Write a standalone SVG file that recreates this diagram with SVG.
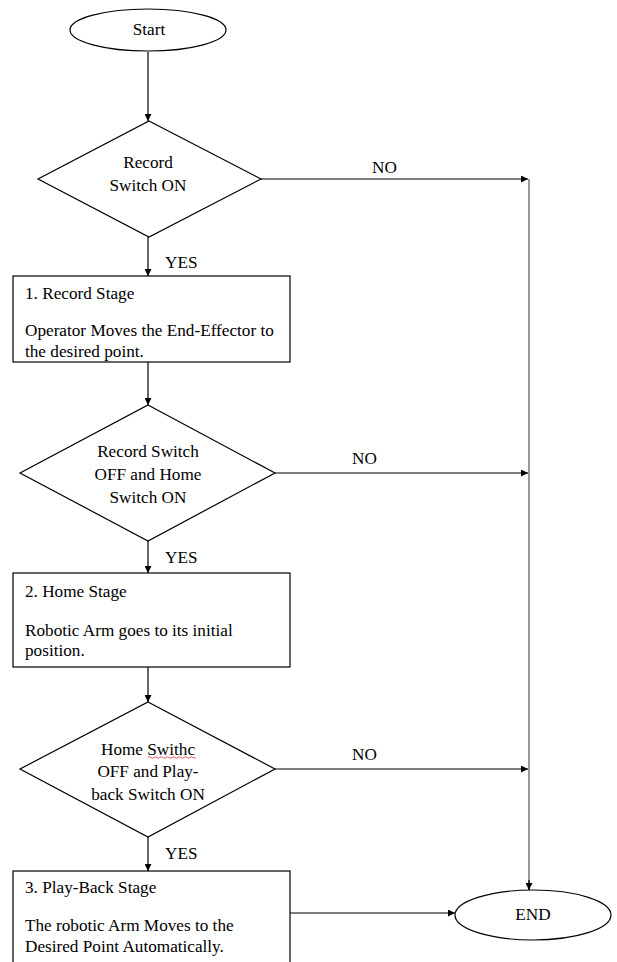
<svg xmlns="http://www.w3.org/2000/svg" width="617" height="962" viewBox="0 0 617 962">
<style>
.s{fill:#fff;stroke:#000;stroke-width:1.2}
.t{font-family:'Liberation Serif','DejaVu Serif',serif;font-size:17.2px;fill:#000}
.c{text-anchor:middle}
.l{fill:none;stroke:#000;stroke-width:1.2}
.g{fill:none;stroke:#808080;stroke-width:1.6}
</style>
<defs>
<marker id="a" viewBox="0 0 10 10" refX="10" refY="5" markerWidth="9" markerHeight="7" markerUnits="userSpaceOnUse" orient="auto">
<path d="M0,0 L10,5 L0,10 Z" fill="#000"/>
</marker>
</defs>
<rect width="617" height="962" fill="#fff"/>
<g id="connectors">
<line class="l" x1="148" y1="52" x2="148" y2="121" marker-end="url(#a)"/>
<line class="l" x1="148" y1="237" x2="148" y2="276" marker-end="url(#a)"/>
<line class="l" x1="148" y1="362" x2="148" y2="405" marker-end="url(#a)"/>
<line class="l" x1="148" y1="541" x2="148" y2="573" marker-end="url(#a)"/>
<line class="l" x1="148" y1="667" x2="148" y2="702" marker-end="url(#a)"/>
<line class="l" x1="148" y1="837" x2="148" y2="871" marker-end="url(#a)"/>
<line class="l" x1="261" y1="179" x2="528" y2="179" marker-end="url(#a)"/>
<line class="l" x1="275" y1="473" x2="528" y2="473" marker-end="url(#a)"/>
<line class="l" x1="275" y1="769" x2="528" y2="769" marker-end="url(#a)"/>
<line class="g" x1="529" y1="179" x2="529" y2="890"/>
<line class="l" x1="529" y1="880" x2="529" y2="890" marker-end="url(#a)"/>
<line class="l" x1="290" y1="913" x2="455" y2="913" marker-end="url(#a)"/>
<text class="t" x="165" y="268">YES</text>
<text class="t" x="165" y="563">YES</text>
<text class="t" x="165" y="859">YES</text>
<text class="t" x="372" y="173">NO</text>
<text class="t" x="352" y="464">NO</text>
<text class="t" x="352" y="760">NO</text>
</g>
<g id="start">
<ellipse class="s" cx="148" cy="30" rx="78" ry="21"/>
<text class="t c" x="149" y="35">Start</text>
</g>
<g id="d1">
<polygon class="s" points="149,121 261,179 149,237 38,179"/>
<text class="t c" x="148" y="168">Record</text>
<text class="t c" x="148" y="191">Switch ON</text>
</g>
<g id="b1">
<rect class="s" x="13" y="276" width="277" height="86"/>
<text class="t" x="25" y="299">1. Record Stage</text>
<text class="t" x="25" y="336">Operator Moves the End-Effector to</text>
<text class="t" x="25" y="357">the desired point.</text>
</g>
<g id="d2">
<polygon class="s" points="148,405 275,473 148,541 20,473"/>
<text class="t c" x="148" y="457">Record Switch</text>
<text class="t c" x="148" y="480">OFF and Home</text>
<text class="t c" x="148" y="503">Switch ON</text>
</g>
<g id="b2">
<rect class="s" x="13" y="573" width="277" height="94"/>
<text class="t" x="25" y="597">2. Home Stage</text>
<text class="t" x="25" y="636">Robotic Arm goes to its initial</text>
<text class="t" x="25" y="656">position.</text>
</g>
<g id="d3">
<polygon class="s" points="148,702 275,769 148,837 20,769"/>
<text class="t c" x="148" y="755">Home Swithc</text>
<path d="M148,757.5 q1.5,-1.5 3,0 t3,0 t3,0 t3,0 t3,0 t3,0 t3,0 t3,0 t3,0 t3,0 t3,0 t3,0 t3,0 t3,0 t3,0 t3,0" fill="none" stroke="#e03030" stroke-width="0.8"/>
<text class="t c" x="148" y="777">OFF and Play-</text>
<text class="t c" x="148" y="800">back Switch ON</text>
</g>
<g id="b3">
<rect class="s" x="13" y="871" width="277" height="100"/>
<text class="t" x="25" y="893">3. Play-Back Stage</text>
<text class="t" x="25" y="931">The robotic Arm Moves to the</text>
<text class="t" x="25" y="952">Desired Point Automatically.</text>
</g>
<g id="end">
<ellipse class="s" cx="533" cy="915" rx="78" ry="25"/>
<text class="t c" x="533" y="920">END</text>
</g>
</svg>
